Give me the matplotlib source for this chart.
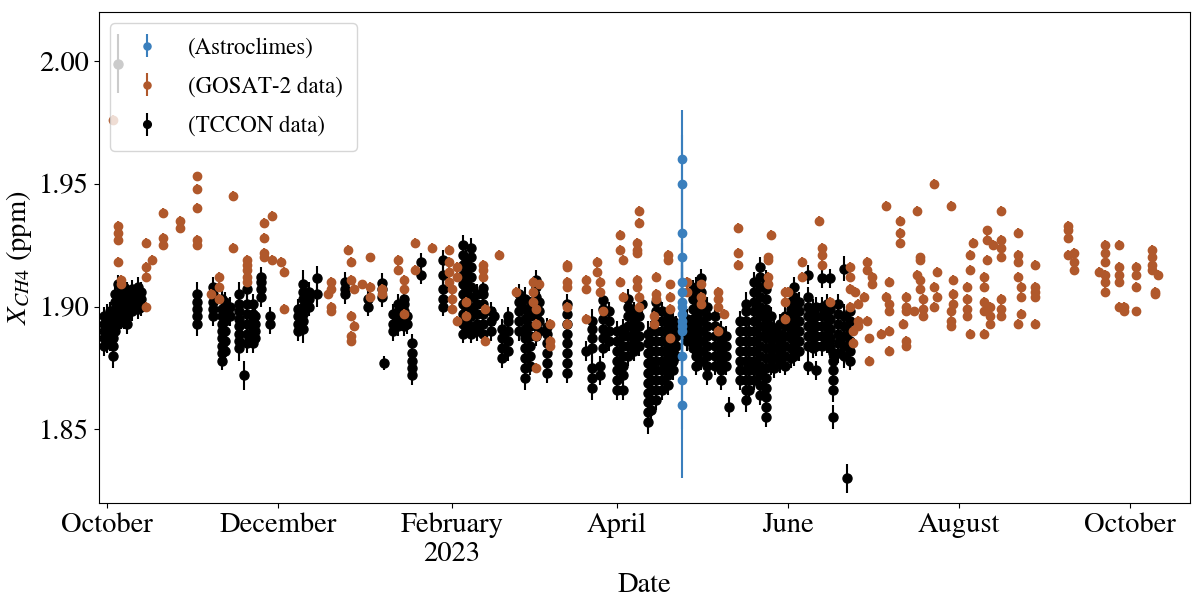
import numpy as np
import matplotlib.pyplot as plt
import matplotlib.dates as mdates
from matplotlib.ticker import MultipleLocator, FormatStrFormatter, FuncFormatter

plt.rcParams['font.family'] = ['STIXGeneral', 'Liberation Serif', 'DejaVu Serif']
plt.rcParams['mathtext.fontset'] = 'stix'

start = np.datetime64('2022-10-01')

# Astroclimes (one night, days since 2022-10-01)
astro_day = 205
astro_ppm = [1.960, 1.950, 1.930, 1.920, 1.910, 1.906, 1.902, 1.900,
             1.897, 1.894, 1.892, 1.890, 1.880, 1.870, 1.860]
astro_err = [0.02] * 14 + [0.03]

# GOSAT-2 soundings, grouped by day
gosat_days = [2, 4, 5, 14, 16, 20, 26, 32, 37, 40, 45, 50, 56, 59, 62, 63,
              79, 80, 86, 87, 88, 91, 94, 98, 104, 106, 110, 116, 122, 123,
              125, 128, 134, 135, 140, 146, 152, 153, 154, 158, 164, 171,
              175, 176, 177, 183, 184, 189, 190, 195, 196, 200, 201, 207,
              212, 218, 220, 225, 236, 237, 242, 243, 248, 254, 255, 258,
              265, 266, 267, 268, 270, 271, 272, 273, 276, 278, 279, 283,
              284, 285, 288, 289, 290, 291, 295, 296, 301, 302, 307, 308,
              309, 313, 314, 315, 316, 319, 325, 326, 331, 343, 345, 354,
              356, 361, 363, 367, 373, 374, 375]
gosat_ppm = [
    [1.976], [1.933, 1.930, 1.927, 1.918], [1.911, 1.909],
    [1.926, 1.916, 1.912, 1.900], [1.919], [1.938, 1.928, 1.925],
    [1.935, 1.932], [1.953, 1.948, 1.940, 1.927, 1.925], [1.905],
    [1.912, 1.908, 1.903], [1.945, 1.924], [1.919, 1.917, 1.915, 1.912, 1.910],
    [1.934, 1.928, 1.922, 1.920], [1.937, 1.919], [1.918], [1.914, 1.899],
    [1.905], [1.910, 1.907, 1.900, 1.898], [1.923],
    [1.918, 1.911, 1.896, 1.888, 1.886], [1.907, 1.892], [1.909],
    [1.920, 1.908, 1.904], [1.907, 1.905], [1.919, 1.915],
    [1.911, 1.907, 1.897], [1.926, 1.915], [1.924],
    [1.923, 1.918, 1.914, 1.910], [1.907, 1.903, 1.899],
    [1.916, 1.912, 1.894], [1.902, 1.896], [1.917, 1.915, 1.912],
    [1.899, 1.886], [1.921], [1.906], [1.910, 1.906, 1.902],
    [1.899, 1.893, 1.888, 1.875], [1.909], [1.893, 1.886, 1.884],
    [1.917, 1.916, 1.910, 1.908, 1.900, 1.893], [1.911, 1.907, 1.895],
    [1.918, 1.914], [1.910, 1.906], [1.898], [1.929, 1.923, 1.910],
    [1.919, 1.904], [1.926, 1.923, 1.922, 1.911, 1.908],
    [1.939, 1.934, 1.904, 1.900], [1.896, 1.893], [1.912, 1.905, 1.903],
    [1.921, 1.919], [1.909, 1.904, 1.899, 1.887], [1.910, 1.906],
    [1.909, 1.904, 1.901], [1.906, 1.903, 1.900, 1.890], [1.897],
    [1.932, 1.922, 1.917], [1.920, 1.919, 1.912, 1.909], [1.929],
    [1.906, 1.902, 1.895], [1.906], [1.918, 1.912], [1.935],
    [1.924, 1.921, 1.917], [1.902], [1.916, 1.912, 1.907, 1.900],
    [1.890, 1.885], [1.906], [1.901, 1.894, 1.892], [1.904],
    [1.918, 1.915, 1.894], [1.887, 1.878], [1.912, 1.909], [1.889],
    [1.941, 1.904], [1.910, 1.901, 1.898, 1.890, 1.882],
    [1.935, 1.930, 1.926], [1.893], [1.904, 1.900, 1.898, 1.886, 1.884],
    [1.898], [1.939, 1.913], [1.920, 1.919, 1.911, 1.907],
    [1.903, 1.899, 1.896], [1.950, 1.908, 1.900], [1.914, 1.904],
    [1.941, 1.898, 1.894, 1.892], [1.911, 1.905, 1.901],
    [1.908, 1.903, 1.899, 1.896], [1.921, 1.915, 1.889], [1.926],
    [1.912, 1.908, 1.902, 1.898, 1.889], [1.931, 1.927, 1.919],
    [1.900, 1.896, 1.893], [1.925],
    [1.939, 1.927, 1.924, 1.920, 1.903, 1.899, 1.896],
    [1.930, 1.921, 1.918, 1.912, 1.893], [1.908, 1.904, 1.897],
    [1.917, 1.908, 1.906, 1.904, 1.893], [1.933, 1.931, 1.928, 1.921],
    [1.922, 1.918, 1.915], [1.914], [1.925, 1.922, 1.918, 1.913, 1.910, 1.906],
    [1.925, 1.916, 1.913, 1.910, 1.900], [1.900, 1.898],
    [1.916, 1.913, 1.908, 1.898], [1.923, 1.920, 1.917, 1.915],
    [1.906, 1.905], [1.913],
]
gosat_err = 0.002

# TCCON retrievals, grouped by day, with one uncertainty per day
tccon_days = [-1, 0, 1, 2, 3, 4, 4, 5, 6, 7, 9, 11, 12, 32, 38, 41, 42, 44,
              47, 49, 50, 52, 53, 55, 58, 68, 70, 72, 75, 85, 93, 98, 99,
              102, 104, 106, 107, 109, 112, 120, 127, 128, 130, 132, 134,
              137, 138, 141, 143, 147, 149, 151, 153, 154, 157, 164, 171,
              173, 176, 177, 179, 182, 184, 186, 188, 190, 191, 193, 194,
              196, 198, 200, 202, 203, 207, 209, 210, 212, 214, 217, 219,
              221, 222, 226, 228, 229, 231, 233, 235, 237, 238, 240, 242,
              244, 245, 247, 250, 252, 253, 255, 257, 258, 259, 261, 263,
              264, 265]
tccon_ppm = [
    [1.884, 1.887, 1.890, 1.893, 1.896], [1.887, 1.890, 1.893, 1.895],
    [1.886, 1.889, 1.892, 1.898], [1.880, 1.884, 1.887, 1.890, 1.893],
    [1.890, 1.893, 1.896, 1.899, 1.902, 1.905],
    [1.893, 1.896, 1.899, 1.902, 1.905, 1.909], [1.999],
    [1.895, 1.898, 1.901, 1.904, 1.907], [1.895, 1.898, 1.901, 1.904, 1.908],
    [1.893, 1.896, 1.899, 1.902, 1.906], [1.898, 1.901, 1.904, 1.907],
    [1.899, 1.902, 1.905, 1.908], [1.900, 1.903, 1.906],
    [1.893, 1.896, 1.899, 1.902, 1.905], [1.896, 1.899, 1.902, 1.905, 1.908],
    [1.878, 1.881, 1.884, 1.887, 1.890, 1.893, 1.896, 1.899, 1.903],
    [1.882, 1.886, 1.890, 1.894, 1.898, 1.902], [1.896, 1.900],
    [1.883, 1.886, 1.889, 1.892, 1.895, 1.898, 1.901, 1.905], [1.872],
    [1.885, 1.889, 1.893, 1.897, 1.901, 1.907],
    [1.885, 1.888, 1.891, 1.894, 1.897, 1.901], [1.887, 1.890, 1.893, 1.896],
    [1.904, 1.907, 1.910, 1.912], [1.893, 1.896],
    [1.890, 1.893, 1.896, 1.899],
    [1.891, 1.894, 1.897, 1.900, 1.903, 1.906, 1.909], [1.900, 1.903, 1.906],
    [1.905, 1.9115], [1.905, 1.907, 1.910], [1.900, 1.903],
    [1.904, 1.907, 1.9095], [1.877], [1.890, 1.893, 1.897],
    [1.892, 1.895, 1.898, 1.901], [1.892, 1.895, 1.898, 1.901, 1.903],
    [1.893, 1.896], [1.872, 1.875, 1.878, 1.881, 1.885], [1.913, 1.918],
    [1.900, 1.903, 1.907, 1.913, 1.919],
    [1.889, 1.893, 1.897, 1.901, 1.905, 1.909, 1.913, 1.917, 1.921, 1.925],
    [1.891, 1.895, 1.899, 1.903, 1.907, 1.911, 1.915, 1.919],
    [1.889, 1.892, 1.896, 1.900, 1.904, 1.908, 1.912, 1.916, 1.920, 1.924],
    [1.890, 1.893, 1.897, 1.901, 1.905],
    [1.889, 1.893, 1.897, 1.901, 1.905, 1.9075], [1.890, 1.894, 1.898],
    [1.896], [1.879, 1.883, 1.887, 1.891], [1.882, 1.886, 1.890, 1.894, 1.896],
    [1.890, 1.894, 1.898, 1.902, 1.905],
    [1.871, 1.875, 1.879, 1.883, 1.887, 1.891, 1.895, 1.899, 1.903],
    [1.876, 1.880, 1.884, 1.888, 1.892, 1.896, 1.900],
    [1.888, 1.892, 1.896, 1.900, 1.904, 1.908, 1.911],
    [1.890, 1.894, 1.898, 1.902], [1.873, 1.877, 1.881, 1.885, 1.889, 1.8915],
    [1.873, 1.877, 1.881, 1.885, 1.889, 1.893, 1.897, 1.901], [1.882],
    [1.867, 1.871, 1.875, 1.883, 1.887, 1.891, 1.894], [1.872, 1.876],
    [1.883, 1.887, 1.891, 1.895, 1.899, 1.9025], [1.886, 1.890, 1.894, 1.898],
    [1.866, 1.870, 1.874, 1.878, 1.882, 1.886, 1.890],
    [1.866, 1.872, 1.876, 1.880, 1.884, 1.888, 1.891],
    [1.880, 1.884, 1.888, 1.892, 1.896, 1.900, 1.903],
    [1.882, 1.886, 1.890, 1.894, 1.898], [1.884, 1.888, 1.892, 1.896],
    [1.901],
    [1.853, 1.857, 1.861, 1.865, 1.869, 1.873, 1.877, 1.881, 1.885, 1.889],
    [1.858, 1.862, 1.866, 1.870, 1.874, 1.878, 1.882, 1.886, 1.890],
    [1.862, 1.866, 1.870, 1.874, 1.878, 1.882, 1.886, 1.890, 1.894, 1.898,
     1.902],
    [1.866, 1.870, 1.874, 1.878, 1.882, 1.886, 1.890, 1.894, 1.898],
    [1.868, 1.872, 1.876, 1.880, 1.884, 1.888, 1.892, 1.896],
    [1.874, 1.878, 1.882, 1.886, 1.890, 1.894], [1.880, 1.884, 1.888, 1.892],
    [1.886, 1.889, 1.892, 1.895],
    [1.883, 1.887, 1.891, 1.895, 1.899, 1.903, 1.907],
    [1.876, 1.880, 1.884, 1.888, 1.892, 1.896, 1.900, 1.904, 1.908],
    [1.878, 1.882, 1.886, 1.890, 1.894, 1.898, 1.902, 1.906, 1.9115],
    [1.872, 1.876, 1.880, 1.884, 1.888, 1.892, 1.896, 1.900],
    [1.876, 1.880, 1.884, 1.888, 1.892, 1.896],
    [1.870, 1.874, 1.878, 1.882, 1.886, 1.890], [1.876, 1.880, 1.884, 1.888],
    [1.859], [1.870, 1.874, 1.878, 1.882, 1.886, 1.890, 1.894],
    [1.862, 1.866, 1.870, 1.874, 1.878, 1.882, 1.886, 1.890, 1.894, 1.898,
     1.901],
    [1.866, 1.870, 1.874, 1.878, 1.882, 1.886, 1.890],
    [1.870, 1.874, 1.878, 1.882, 1.886, 1.890, 1.894, 1.898, 1.902, 1.906,
     1.910],
    [1.864, 1.868, 1.872, 1.876, 1.880, 1.884, 1.888, 1.892, 1.896, 1.900,
     1.904, 1.908, 1.912, 1.916],
    [1.855, 1.859, 1.863, 1.867, 1.871, 1.875, 1.879, 1.883, 1.887, 1.891,
     1.895, 1.899, 1.903, 1.907, 1.911],
    [1.876, 1.880, 1.884, 1.888, 1.892, 1.896],
    [1.875, 1.879, 1.883, 1.887, 1.891], [1.877, 1.881, 1.885, 1.889, 1.893],
    [1.876, 1.880, 1.884, 1.888, 1.892, 1.896],
    [1.879, 1.883, 1.887, 1.891, 1.895, 1.899, 1.902],
    [1.880, 1.884, 1.888, 1.892, 1.896, 1.900, 1.904, 1.908],
    [1.882, 1.886, 1.890, 1.894, 1.898, 1.902],
    [1.876, 1.884, 1.888, 1.892, 1.896, 1.900, 1.904, 1.913],
    [1.883, 1.887, 1.891, 1.895, 1.899],
    [1.874, 1.884, 1.888, 1.892, 1.896, 1.900],
    [1.884, 1.888, 1.892, 1.896, 1.900, 1.9115],
    [1.885, 1.889, 1.893, 1.897, 1.901],
    [1.883, 1.887, 1.891, 1.895, 1.899, 1.9115],
    [1.855, 1.866, 1.870, 1.874, 1.878, 1.881],
    [1.881, 1.885, 1.889, 1.893, 1.897, 1.901],
    [1.880, 1.884, 1.888, 1.892, 1.896, 1.9155], [1.830],
    [1.878, 1.882, 1.886, 1.890, 1.894, 1.898],
]
tccon_err = [0.004, 0.006, 0.004, 0.005, 0.004, 0.004, 0.012, 0.004, 0.004,
             0.004, 0.004, 0.004, 0.004, 0.005, 0.004, 0.004, 0.004, 0.004,
             0.005, 0.006, 0.004, 0.004, 0.004, 0.004, 0.004, 0.004, 0.006,
             0.004, 0.005, 0.004, 0.004, 0.004, 0.003, 0.004, 0.004, 0.004,
             0.004, 0.004, 0.004, 0.004, 0.004, 0.004, 0.004, 0.004, 0.004,
             0.004, 0.004, 0.004, 0.004, 0.004, 0.005, 0.004, 0.004, 0.004,
             0.004, 0.004, 0.004, 0.005, 0.004, 0.004, 0.004, 0.004, 0.004,
             0.004, 0.004, 0.004, 0.004, 0.005, 0.004, 0.004, 0.004, 0.004,
             0.004, 0.004, 0.004, 0.004, 0.004, 0.004, 0.004, 0.004, 0.004,
             0.004, 0.004, 0.004, 0.005, 0.004, 0.004, 0.004, 0.004, 0.004,
             0.004, 0.004, 0.004, 0.004, 0.004, 0.004, 0.004, 0.004, 0.004,
             0.004, 0.004, 0.004, 0.005, 0.004, 0.005, 0.006, 0.004]

blue = '#3a7fbd'
brown = '#b0582b'


def flatten(days, groups):
    d = [day for day, g in zip(days, groups) for _ in g]
    v = [x for g in groups for x in g]
    return start + np.array(d, dtype='timedelta64[D]'), np.array(v)


g_t, g_v = flatten(gosat_days, gosat_ppm)
t_t, t_v = flatten(tccon_days, tccon_ppm)
t_e = np.array([e for e, g in zip(tccon_err, tccon_ppm) for _ in g])
a_t = np.array([start + np.timedelta64(astro_day, 'D')] * len(astro_ppm))

fig = plt.figure(figsize=(11.98, 5.99), dpi=100)
ax = fig.add_axes([0.0826, 0.1603, 0.9107, 0.8197])

h_t = ax.errorbar(t_t, t_v, yerr=t_e, fmt='o', color='black', ms=6.5,
                  label='(TCCON data)', zorder=2)
h_g = ax.errorbar(g_t, g_v, yerr=gosat_err, fmt='o', color=brown, ms=6,
                  label='(GOSAT-2 data)', zorder=3)
h_a = ax.errorbar(a_t, astro_ppm, yerr=astro_err, fmt='o', color=blue, ms=6,
                  label='(Astroclimes)', zorder=4)

leg = ax.legend(handles=[h_a, h_g, h_t], loc='upper left', fontsize=16.5,
                markerscale=0.85, labelspacing=0.78, borderpad=0.6)

x0 = mdates.date2num(start)
ax.set_xlim(x0 - 2.85, x0 + 386.4)
ax.set_ylim(1.82, 2.02)

ax.xaxis.set_major_locator(mdates.MonthLocator(bymonth=[2, 4, 6, 8, 10, 12]))


def month_label(x, pos):
    d = mdates.num2date(x)
    if d.month == 2:
        return d.strftime('%B\n%Y')
    return d.strftime('%B')


ax.xaxis.set_major_formatter(FuncFormatter(month_label))
ax.yaxis.set_major_locator(MultipleLocator(0.05))
ax.yaxis.set_major_formatter(FormatStrFormatter('%.2f'))
ax.tick_params(labelsize=20.5)

ax.set_xlabel('Date', fontsize=20.5)
ax.set_ylabel(r'$X_{CH4}$ (ppm)', fontsize=20.5)

fig.savefig('out.png', dpi=100)
